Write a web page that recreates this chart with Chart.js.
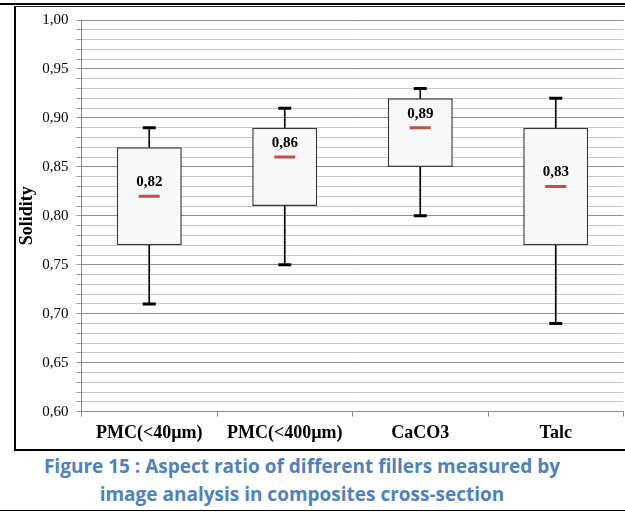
<!DOCTYPE html>
<html>
<head>
<meta charset="utf-8">
<script src="https://cdn.jsdelivr.net/npm/chart.js@4.4.1/dist/chart.umd.min.js"></script>
<style>
  html, body { margin: 0; padding: 0; background: #fff; width: 625px; height: 512px; overflow: hidden; }
  #topbar { position: absolute; left: 0; top: 3px; width: 625px; height: 2px; background: #000; }
  #frame { position: absolute; left: 14px; top: 6px; width: 700px; height: 442px;
           border-left: 2px solid #000; border-top: 1px solid #222; border-bottom: 2px solid #000; }
  #bottomline { position: absolute; left: 0; top: 510px; width: 625px; height: 1px; background: #000; }
  #wrap { position: absolute; left: 0; top: 0; width: 625px; height: 450px; }
  .cap { position: absolute; left: 0; width: 604px; text-align: center; font-family: "Open Sans", Lato, sans-serif;
         font-weight: bold; color: #4F81BD; font-size: 19px; line-height: 23px; white-space: nowrap; }
</style>
</head>
<body>
<div id="topbar"></div>
<div id="frame"></div>
<div id="bottomline"></div>
<div id="wrap"><canvas id="c" width="625" height="450"></canvas></div>
<div class="cap" id="cap1" style="top:455px">Figure 15 : Aspect ratio of different fillers measured by</div>
<div class="cap" id="cap2" style="top:483px">image analysis in composites cross-section</div>
<script>
const categories = ["PMC(<40µm)", "PMC(<400µm)", "CaCO3", "Talc"];
const minValues    = [0.71, 0.75, 0.80, 0.69];
const q1Values     = [0.77, 0.81, 0.85, 0.77];
const medianValues = [0.82, 0.86, 0.89, 0.83];
const q3Values     = [0.87, 0.89, 0.92, 0.89];
const maxValues    = [0.89, 0.91, 0.93, 0.92];
const yTicks = { min: 0.60, max: 1.00, step: 0.01, labelStep: 0.05 };

const fmt = v => v.toFixed(2).replace('.', ',');
const isMajor = v => Math.round(v * 100) % 5 === 0;

const medianLabels = {
  id: 'medianLabels',
  afterDatasetsDraw(chart) {
    const ctx = chart.ctx;
    const xs = chart.scales.x, ys = chart.scales.y;
    ctx.save();
    ctx.font = 'bold 15px "Liberation Serif", "Times New Roman", serif';
    ctx.fillStyle = '#000';
    ctx.textAlign = 'center';
    ctx.textBaseline = 'alphabetic';
    medianValues.forEach((m, i) => {
      ctx.fillText(fmt(m), xs.getPixelForValue(i), ys.getPixelForValue(m) - 10);
    });
    ctx.restore();
  }
};

new Chart(document.getElementById('c'), {
  type: 'bar',
  data: {
    labels: categories,
    datasets: [
      { type: 'line', data: medianValues, showLine: false, pointStyle: 'line',
        pointRadius: 10.5, pointBorderWidth: 3, borderColor: '#C0504D', backgroundColor: '#C0504D' },
      { type: 'line', data: maxValues, showLine: false, pointStyle: 'line',
        pointRadius: 6.5, pointBorderWidth: 3, borderColor: '#000', backgroundColor: '#000' },
      { type: 'line', data: minValues, showLine: false, pointStyle: 'line',
        pointRadius: 6.5, pointBorderWidth: 3, borderColor: '#000', backgroundColor: '#000' },
      { data: q1Values.map((q, i) => [q, q3Values[i]]), grouped: false,
        backgroundColor: '#f8f8f8', borderColor: '#3a3a3a', borderWidth: 1.5, borderSkipped: false,
        barPercentage: 0.48, categoryPercentage: 1 },
      { data: q3Values.map((q, i) => [q, maxValues[i]]), grouped: false,
        backgroundColor: '#000', borderWidth: 0, barThickness: 1 },
      { data: minValues.map((m, i) => [m, q1Values[i]]), grouped: false,
        backgroundColor: '#000', borderWidth: 0, barThickness: 1 }
    ]
  },
  options: {
    responsive: false,
    animation: false,
    events: [],
    layout: { autoPadding: false, padding: { left: 0, right: 1.5, top: 20, bottom: 0 } },
    plugins: { legend: { display: false }, tooltip: { enabled: false } },
    scales: {
      x: {
        offset: true,
        grid: { offset: true, drawOnChartArea: false, drawTicks: true, tickLength: 5, color: '#888' },
        border: { color: '#888', width: 1 },
        ticks: { color: '#000', padding: 6, maxRotation: 0,
                 font: { family: '"Liberation Serif", "Times New Roman", serif', size: 18, weight: 'bold' } },
        afterFit(s) { s.height = 38.3; s.paddingLeft = 0; s.paddingRight = 0; }
      },
      y: {
        min: yTicks.min, max: yTicks.max,
        ticks: {
          stepSize: yTicks.step, autoSkip: false, color: '#000', padding: 8,
          font: { family: '"Liberation Serif", "Times New Roman", serif', size: 15 },
          callback: v => isMajor(v) ? fmt(v) : ''
        },
        grid: {
          color: c => isMajor(c.tick.value) ? '#8f8f8f' : '#c8c8c8',
          tickColor: '#999', tickLength: 5, lineWidth: 1
        },
        border: { color: '#888', width: 1 },
        title: { display: true, text: 'Solidity', color: '#000', padding: { top: 17, bottom: 0 },
                 font: { family: '"Liberation Serif", "Times New Roman", serif', size: 18, weight: 'bold' } },
        afterFit(s) { s.width = 81.5; }
      }
    }
  },
  plugins: [medianLabels]
});
</script>
</body>
</html>
